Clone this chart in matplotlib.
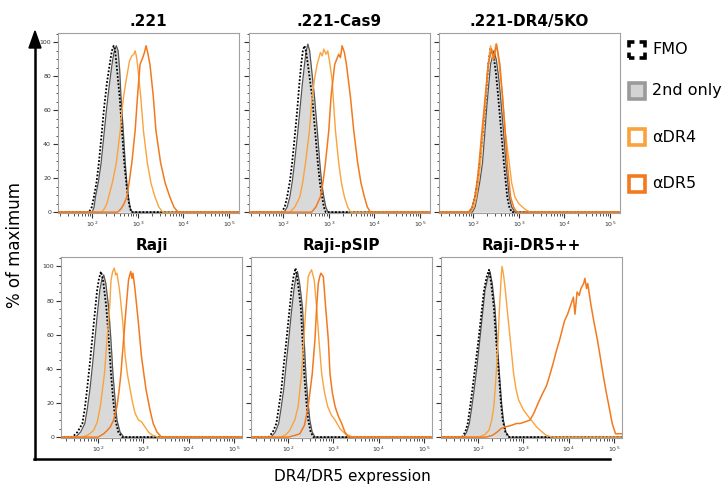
import matplotlib
matplotlib.use("Agg")
import matplotlib.pyplot as plt
from matplotlib.patches import Rectangle, Polygon
from matplotlib.lines import Line2D
from matplotlib.ticker import MultipleLocator, LogLocator, NullFormatter

# ---------------- data (fluorescence intensity, % of maximum) ----------------
panel_titles = [".221", ".221-Cas9", ".221-DR4/5KO", "Raji", "Raji-pSIP", "Raji-DR5++"]
legend_labels = ["FMO", "2nd only", "αDR4", "αDR5"]
ytick_values = [0, 20, 40, 60, 80, 100]

# .221
a_fmo_x = [12, 85, 98, 109, 125, 140, 160, 180, 210, 242, 270, 296, 320, 350, 400, 450, 505, 580, 650, 720, 160000]
a_fmo_y = [0, 0, 3, 9, 18, 29, 45, 60, 76, 87, 95, 98, 95, 84, 68, 48, 29, 13, 4, 0, 0]
a_sec_x = [12, 100, 110, 118, 137, 157, 180, 205, 240, 272, 300, 338, 370, 400, 428, 480, 530, 580, 630, 690, 760, 160000]
a_sec_y = [0, 0, 3, 9, 18, 29, 45, 60, 76, 87, 94, 98, 95, 84, 68, 48, 29, 16, 8, 2, 0, 0]
a_dr4_x = [12, 160, 185, 210, 230, 280, 338, 413, 449, 500, 558, 658, 740, 820, 875, 930, 985, 1160, 1330,
           1620, 1950, 2380, 2900, 3500, 160000]
a_dr4_y = [0, 0, 2, 5, 9, 18, 29, 48, 60, 70, 78, 89, 92, 93, 95, 92, 87, 68, 48, 29, 17, 9, 3, 0, 0]
a_dr5_x = [12, 360, 430, 500, 576, 650, 740, 875, 985, 1120, 1285, 1400, 1520, 1650, 1850, 2190, 2500, 3170,
           4000, 5040, 6200, 7650, 160000]
a_dr5_y = [0, 0, 2, 5, 9, 18, 29, 48, 68, 87, 91, 94, 98, 94, 87, 68, 48, 29, 17, 9, 3, 0, 0]

# .221-Cas9
b_fmo_x = [12, 92, 108, 122, 140, 157, 180, 203, 225, 248, 270, 293, 320, 360, 431, 500, 575, 640, 714, 780, 860, 160000]
b_fmo_y = [0, 0, 3, 9, 18, 29, 45, 60, 75, 87, 95, 98, 94, 84, 68, 48, 29, 17, 9, 3, 0, 0]
b_sec_x = [12, 105, 122, 140, 158, 177, 205, 232, 262, 293, 320, 347, 380, 420, 485, 560, 635, 700, 778, 860, 960, 160000]
b_sec_y = [0, 0, 3, 9, 18, 29, 45, 60, 75, 87, 95, 99, 95, 84, 68, 48, 29, 17, 9, 3, 0, 0]
b_dr4_x = [12, 140, 180, 232, 270, 308, 377, 431, 490, 555, 655, 720, 778, 870, 950, 1050, 1180, 1290, 1400,
           1650, 1900, 2200, 2600, 3000, 160000]
b_dr4_y = [0, 0, 3, 9, 18, 29, 48, 68, 79, 87, 94, 92, 96, 93, 95, 88, 78, 62, 48, 29, 17, 9, 3, 0, 0]
b_dr5_x = [12, 420, 520, 655, 750, 845, 1000, 1120, 1350, 1650, 1800, 1960, 2200, 2440, 2980, 3530, 4300,
           5100, 6040, 7000, 8200, 160000]
b_dr5_y = [0, 0, 3, 9, 18, 29, 48, 68, 87, 93, 91, 98, 94, 87, 68, 48, 29, 17, 9, 3, 0, 0]

# .221-DR4/5KO
c_fmo_x = [12, 82, 96, 109, 124, 140, 160, 180, 214, 240, 280, 315, 354, 410, 471, 557, 620, 700, 160000]
c_fmo_y = [0, 0, 3, 9, 18, 29, 45, 60, 87, 97, 92, 82, 68, 48, 29, 9, 3, 0, 0]
c_sec_x = [12, 96, 110, 122, 140, 160, 178, 196, 240, 284, 320, 360, 398, 460, 521, 617, 700, 830, 160000]
c_sec_y = [0, 0, 3, 9, 18, 29, 45, 60, 87, 95, 90, 80, 68, 48, 29, 9, 3, 0, 0]
c_dr4_x = [12, 88, 104, 118, 130, 145, 160, 180, 214, 240, 276, 314, 340, 371, 440, 503, 617, 700, 820,
           1000, 1200, 1500, 1800, 160000]
c_dr4_y = [0, 0, 3, 9, 18, 29, 45, 60, 87, 98, 90, 99, 95, 87, 68, 48, 29, 17, 9, 5, 3, 1, 0, 0]
c_dr5_x = [12, 80, 95, 109, 122, 135, 152, 172, 214, 253, 284, 325, 385, 440, 500, 557, 660, 770, 900, 160000]
c_dr5_y = [0, 0, 3, 9, 18, 29, 45, 60, 87, 96, 90, 99, 87, 68, 48, 29, 9, 3, 0, 0]

# Raji
d_fmo_x = [12, 27, 35, 45, 51, 57, 65, 74, 84, 95, 105, 116, 130, 152, 172, 193, 215, 240, 280, 340, 160000]
d_fmo_y = [0, 0, 3, 8, 17, 28, 42, 57, 72, 86, 93, 97, 91, 76, 57, 37, 22, 10, 3, 0, 0]
d_sec_x = [12, 32, 41, 51, 58, 66, 75, 85, 96, 109, 120, 133, 148, 171, 192, 213, 237, 261, 305, 370, 160000]
d_sec_y = [0, 0, 3, 8, 17, 28, 42, 57, 72, 86, 92, 95, 90, 76, 57, 37, 22, 10, 3, 0, 0]
d_dr4_x = [12, 45, 62, 80, 96, 112, 138, 157, 180, 193, 210, 228, 245, 261, 298, 352, 398, 450, 510, 580,
           657, 780, 910, 1087, 1300, 1520, 2130, 160000]
d_dr4_y = [0, 0, 1.5, 4, 9, 18, 37, 57, 76, 92, 97, 99, 95, 96, 86, 67, 47, 36, 28, 20, 14, 10, 9, 6, 3, 1.4, 0, 0]
d_dr5_x = [12, 100, 133, 160, 186, 220, 261, 290, 319, 365, 417, 470, 500, 528, 560, 590, 657, 777, 910,
           1143, 1400, 1650, 2000, 2520, 160000]
d_dr5_y = [0, 0, 2, 4, 6, 10, 18, 27, 37, 57, 76, 92, 95, 97, 93, 96, 86, 67, 47, 28, 16, 8, 3, 0, 0]

# Raji-pSIP
e_fmo_x = [12, 37, 46, 55, 62, 71, 80, 92, 105, 119, 132, 146, 165, 191, 208, 227, 250, 278, 315, 365, 160000]
e_fmo_y = [0, 0, 3, 8, 17, 28, 42, 57, 72, 86, 94, 99, 90, 76, 57, 37, 22, 10, 3, 0, 0]
e_sec_x = [12, 42, 52, 62, 70, 80, 90, 103, 117, 134, 147, 161, 180, 208, 226, 247, 272, 302, 340, 395, 160000]
e_sec_y = [0, 0, 3, 8, 17, 28, 42, 57, 72, 86, 93, 97, 90, 76, 57, 37, 22, 10, 3, 0, 0]
e_dr4_x = [12, 70, 90, 109, 140, 167, 198, 223, 247, 278, 300, 330, 378, 427, 480, 552, 640, 748, 900,
           1090, 1400, 1815, 2400, 3020, 160000]
e_dr4_y = [0, 0, 1.5, 4, 10, 18, 37, 57, 76, 94, 96, 98, 92, 76, 57, 37, 26, 18, 13, 10, 5, 2, 0.5, 0, 0]
e_dr5_x = [12, 100, 140, 182, 230, 278, 341, 392, 427, 464, 500, 532, 600, 676, 774, 843, 950, 1090, 1300,
           1530, 1800, 2150, 160000]
e_dr5_y = [0, 0, 1, 2, 7, 18, 37, 57, 76, 90, 94, 96, 94, 76, 57, 37, 26, 18, 12, 8, 3, 0, 0]

# Raji-DR5++
f_fmo_x = [12, 44, 52, 59, 66, 75, 87, 102, 118, 135, 155, 174, 195, 223, 250, 287, 320, 350, 400, 480, 160000]
f_fmo_y = [0, 0, 3, 8, 17, 28, 42, 57, 72, 86, 94, 98, 90, 76, 57, 37, 20, 10, 3, 0, 0]
f_sec_x = [12, 48, 56, 64, 72, 82, 95, 109, 125, 142, 163, 183, 205, 235, 262, 296, 330, 362, 410, 490, 160000]
f_sec_y = [0, 0, 3, 8, 17, 28, 42, 57, 72, 86, 93, 97, 90, 76, 57, 37, 20, 10, 3, 0, 0]
f_dr4_x = [12, 105, 140, 174, 200, 223, 251, 277, 297, 315, 328, 339, 365, 400, 450, 514, 610, 690, 780,
           1000, 1295, 1600, 1960, 2600, 3230, 4530, 160000]
f_dr4_y = [0, 0, 1.5, 4, 10, 18, 37, 57, 76, 88, 96, 100, 95, 86, 72, 57, 37, 28, 22, 16, 12, 9, 6, 3, 1, 0, 0]
f_dr5_x = [12, 147, 205, 264, 320, 400, 560, 700, 850, 1100, 1400, 1700, 2130, 2600, 3240, 3800, 4530, 5300,
           6340, 8100, 9500, 11350, 12760, 13800, 15400, 17200, 18700, 21500, 22900, 25000, 26500, 30900,
           36000, 43300, 50000, 57600, 67000, 78100, 92000, 108700, 160000]
f_dr5_y = [0, 0, 1, 3, 5, 6, 7, 8, 8, 9, 10, 14, 20, 25, 30, 36, 43, 50,
           57, 68, 72, 78, 82, 72, 85, 83, 87, 90, 93, 87, 90, 78,
           68, 57, 47, 37, 27, 18, 8, 2, 2]

panels = [
    (a_fmo_x, a_fmo_y, a_sec_x, a_sec_y, a_dr4_x, a_dr4_y, a_dr5_x, a_dr5_y),
    (b_fmo_x, b_fmo_y, b_sec_x, b_sec_y, b_dr4_x, b_dr4_y, b_dr5_x, b_dr5_y),
    (c_fmo_x, c_fmo_y, c_sec_x, c_sec_y, c_dr4_x, c_dr4_y, c_dr5_x, c_dr5_y),
    (d_fmo_x, d_fmo_y, d_sec_x, d_sec_y, d_dr4_x, d_dr4_y, d_dr5_x, d_dr5_y),
    (e_fmo_x, e_fmo_y, e_sec_x, e_sec_y, e_dr4_x, e_dr4_y, e_dr5_x, e_dr5_y),
    (f_fmo_x, f_fmo_y, f_sec_x, f_sec_y, f_dr4_x, f_dr4_y, f_dr5_x, f_dr5_y),
]

# ---------------- styling ----------------
W, H = 723, 487
C_DR4 = "#F9A33C"
C_DR5 = "#F27A1E"
C_FILL = "#D9D9D9"
C_SECL = "#555555"
plt.rcParams["font.family"] = ["DejaVu Sans"]

fig = plt.figure(figsize=(W / 100, H / 100), dpi=100)


def fx(px):
    return px / W


def fy(py):
    return 1 - py / H


col_left = [[58, 249, 439], [61, 251, 441]]
row_top = [33, 257]
row_bot = [213, 438]
pw = 181
xlims = [(10 ** 1.25, 10 ** 5.22), (10 ** 1.18, 10 ** 5.18)]

for i, data in enumerate(panels):
    r, c = divmod(i, 3)
    left = col_left[r][c]
    ax = fig.add_axes([fx(left), fy(row_bot[r]), pw / W, (row_bot[r] - row_top[r]) / H])
    fmo_x, fmo_y, sec_x, sec_y, dr4_x, dr4_y, dr5_x, dr5_y = data
    ax.fill_between(sec_x, sec_y, 0, color=C_FILL, lw=0, zorder=1)
    ax.plot(sec_x, sec_y, color=C_SECL, lw=0.9, zorder=2)
    ax.plot(fmo_x, fmo_y, color="black", lw=1.3, ls=(0, (1, 1)), zorder=3)
    ax.plot(dr4_x, dr4_y, color=C_DR4, lw=1.0, zorder=4)
    ax.plot(dr5_x, dr5_y, color=C_DR5, lw=1.1, zorder=5)
    ax.set_xscale("log")
    ax.set_xlim(*xlims[r])
    ax.set_ylim(-0.5, 105.5)
    ax.xaxis.set_major_locator(LogLocator(base=10, numticks=10))
    ax.xaxis.set_minor_locator(LogLocator(base=10, subs=range(2, 10), numticks=20))
    ax.xaxis.set_minor_formatter(NullFormatter())
    ax.set_yticks(ytick_values)
    ax.yaxis.set_minor_locator(MultipleLocator(5))
    ax.tick_params(axis="both", which="major", length=3.5, width=0.8, colors="#333333",
                   labelsize=4.5, pad=1.5, direction="out")
    ax.tick_params(axis="both", which="minor", length=1.8, width=0.6, colors="#333333",
                   direction="out")
    if c != 0:
        ax.set_yticklabels([])
    for s in ax.spines.values():
        s.set_color("#A0A0A0")
        s.set_linewidth(0.8)
    ax.set_title(panel_titles[i], fontsize=11, fontweight="bold", pad=5)

# big outer axis with arrow
fig.add_artist(Line2D([fx(35), fx(35)], [fy(459), fy(46)], color="black", lw=1.8))
fig.add_artist(Line2D([fx(34.1), fx(610)], [fy(459), fy(459)], color="black", lw=1.8))
fig.add_artist(Polygon([[fx(35), fy(31)], [fx(29), fy(48)], [fx(41), fy(48)]],
                       closed=True, color="black", transform=fig.transFigure))

fig.text(fx(15), fy(245), "% of maximum", rotation=90, ha="center", va="center", fontsize=12)
fig.text(fx(352), fy(477), "DR4/DR5 expression", ha="center", va="center", fontsize=11)

# legend
leg_y = [50, 91, 137, 184]
lw_leg = 2.6
side_pt = 16 * 0.72 / lw_leg
dash_d = side_pt * 0.68
dash_g = side_pt - dash_d
styles = [
    dict(edgecolor="black", facecolor="none", linestyle=(dash_d / 2, (dash_d, dash_g)), linewidth=lw_leg),
    dict(edgecolor="#9A9A9A", facecolor="#D3D3D3", linewidth=lw_leg),
    dict(edgecolor=C_DR4, facecolor="white", linewidth=lw_leg),
    dict(edgecolor=C_DR5, facecolor="white", linewidth=lw_leg),
]
for yc, lab, st in zip(leg_y, legend_labels, styles):
    fig.add_artist(Rectangle((fx(629), fy(yc + 8)), 16 / W, 16 / H, transform=fig.transFigure, **st))
    fig.text(fx(652), fy(yc), lab, ha="left", va="center", fontsize=11.5)

fig.savefig("out.png", dpi=100)
